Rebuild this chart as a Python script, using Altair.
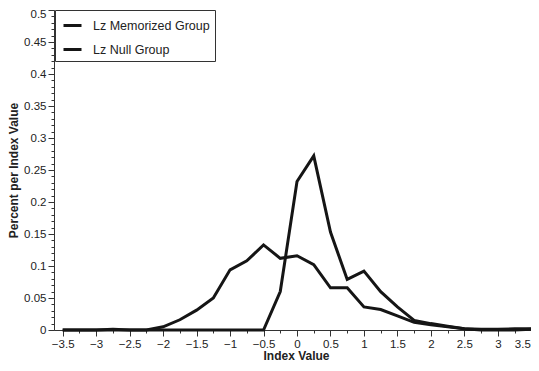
import altair as alt
import pandas as pd

x_vals = [-3.5, -3.25, -3.0, -2.75, -2.5, -2.25, -2.0, -1.75, -1.5, -1.25, -1.0, -0.75, -0.5, -0.25,
          0.0, 0.25, 0.5, 0.75, 1.0, 1.25, 1.5, 1.75, 2.0, 2.25, 2.5, 2.75, 3.0, 3.25, 3.5]
memorized = [0, 0, 0, 0.001, 0, 0, 0.005, 0.016, 0.031, 0.05, 0.094, 0.108, 0.133, 0.112,
             0.116, 0.102, 0.066, 0.066, 0.036, 0.032, 0.022, 0.012, 0.008, 0.005, 0.002, 0, 0, 0, 0.001]
null = [0, 0, 0, 0, 0, 0, 0, 0, 0, 0, 0, 0, 0, 0.06,
        0.232, 0.272, 0.153, 0.079, 0.092, 0.06, 0.036, 0.015, 0.010, 0.006, 0.002, 0.001, 0.001, 0.002, 0.002]
series_names = ["Lz Memorized Group", "Lz Null Group"]

x_major = [-3.5, -3, -2.5, -2, -1.5, -1, -0.5, 0, 0.5, 1, 1.5, 2, 2.5, 3, 3.5]
x_minor = [v / 4 for v in range(-14, 15)]
y_major = [0, 0.05, 0.1, 0.15, 0.2, 0.25, 0.3, 0.35, 0.4, 0.45, 0.5]
y_minor = [v / 100 for v in range(0, 51)]

rows = []
for i, xv in enumerate(x_vals):
    rows.append({"x": xv, "y": memorized[i], "series": series_names[0]})
    rows.append({"x": xv, "y": null[i], "series": series_names[1]})
df = pd.DataFrame(rows)

FONT = "Liberation Sans"
xscale = alt.Scale(domain=[-3.63, 3.6], nice=False, zero=False)
yscale = alt.Scale(domain=[0, 0.5], nice=False)

main = alt.Chart(df).mark_line(strokeWidth=3, color="#151515", strokeJoin="miter").encode(
    x=alt.X("x:Q", scale=xscale,
            axis=alt.Axis(orient="bottom", values=x_major, title="Index Value", format="~g",
                          tickSize=6, labelFontSize=11.5, labelFont=FONT, labelColor="#222",
                          titleFont=FONT, titleFontSize=12, titleFontWeight="bold", titleColor="#222",
                          titlePadding=1, labelPadding=2, grid=False, domainColor="#333",
                          tickColor="#333", labelFlush=False, labelOverlap=False,
                          labelAlign={"condition": {"test": "datum.value == 3.5", "value": "right"},
                                      "value": "center"},
                          labelOffset={"condition": {"test": "datum.value == 3.5", "value": -1},
                                       "value": 0})),
    y=alt.Y("y:Q", scale=yscale,
            axis=alt.Axis(orient="left", values=y_major, title="Percent per Index Value", format="~g",
                          tickSize=6, labelFontSize=11.5, labelFont=FONT, labelColor="#222",
                          titleFont=FONT, titleFontSize=12, titleFontWeight="bold", titleColor="#222",
                          titlePadding=3, labelPadding=2, grid=False, domainColor="#333",
                          tickColor="#333", labelFlush=False, labelOverlap=False,
                          labelBaseline={"condition": {"test": "datum.value == 0.5", "value": "top"},
                                         "value": "middle"},
                          labelOffset={"condition": {"test": "datum.value == 0.5", "value": -2},
                                       "value": 0})),
    color=alt.Color("series:N", scale=alt.Scale(domain=series_names, range=["#151515", "#151515"]),
                    legend=alt.Legend(title=None, orient="none", legendX=1, legendY=0,
                                      symbolType="stroke", symbolStrokeWidth=3, symbolSize=324,
                                      labelFont=FONT, labelFontSize=12.5, labelColor="#222",
                                      strokeColor="#333", fillColor="white", padding=5,
                                      rowPadding=7, labelOffset=10, symbolOffset=2,
                                      labelLimit=300)),
    detail="series:N",
)

minor = alt.Chart(df).mark_line(opacity=0).encode(
    x=alt.X("x:Q", scale=xscale,
            axis=alt.Axis(orient="bottom", values=x_minor, labels=False, title=None, tickSize=3,
                          domain=False, grid=False, tickColor="#333")),
    y=alt.Y("y:Q", scale=yscale,
            axis=alt.Axis(orient="left", values=y_minor, labels=False, title=None, tickSize=3,
                          domain=False, grid=False, tickColor="#333")),
)

chart = alt.layer(minor, main).resolve_axis(x="independent", y="independent").properties(
    width=484, height=320,
    autosize=alt.AutoSizeParams(type="none"),
    padding={"left": 46, "top": 2, "right": -7, "bottom": 33},
).configure_view(stroke=None)

chart.save("out.html", embed_options={"renderer": "svg", "actions": False})
